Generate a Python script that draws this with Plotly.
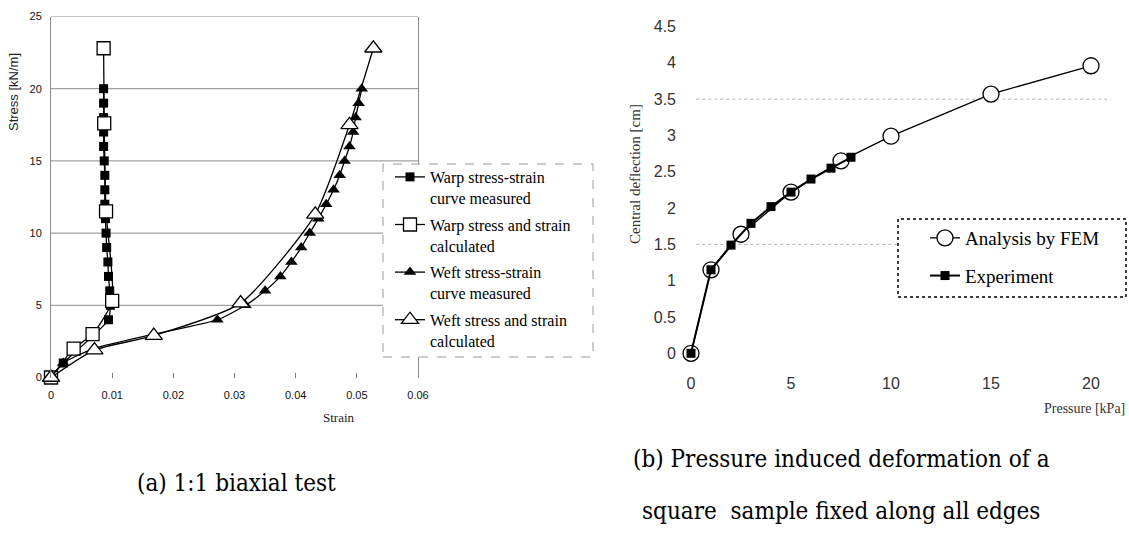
import plotly.graph_objects as go

W, H = 1129, 554

# ---------------- (a) 1:1 biaxial test ----------------
warp_meas_strain = [0, 0.0020, 0.0094, 0.0097, 0.0096, 0.0094, 0.0093, 0.0091, 0.0090,
                    0.0089, 0.0088, 0.0088, 0.0088, 0.0087, 0.0086, 0.0086, 0.0086, 0.0086, 0.0086]
warp_meas_stress = [0, 1, 4, 5, 6, 7, 8, 9, 10, 11, 12, 13, 14, 15, 16, 17, 18, 19, 20]

warp_calc_strain = [0, 0.0037, 0.0068, 0.0100, 0.0090, 0.0087, 0.0086]
warp_calc_stress = [0, 2.0, 3.0, 5.3, 11.5, 17.6, 22.8]

weft_meas_strain = [0, 0.0020, 0.0070, 0.0168, 0.0272, 0.0318, 0.0350, 0.0375, 0.0393, 0.0409,
                    0.0423, 0.0437, 0.0450, 0.0462, 0.0472, 0.0480, 0.0488, 0.0494, 0.0498, 0.0503, 0.0508]
weft_meas_stress = [0, 1, 2, 3, 4, 5, 6, 7, 8, 9, 10, 11, 12, 13, 14, 15, 16, 17, 18, 19, 20]

weft_calc_strain = [0, 0.0071, 0.0168, 0.0310, 0.0432, 0.0488, 0.0527]
weft_calc_stress = [0, 1.9, 2.9, 5.15, 11.3, 17.5, 22.8]

stress_grid = [5, 10, 15, 20, 25]

legend_a = ["Warp stress-strain<br>curve measured",
            "Warp stress and strain<br>calculated",
            "Weft stress-strain<br>curve measured",
            "Weft stress and strain<br>calculated"]

# ---------------- (b) pressure induced deformation ----------------
fem_pressure = [0, 1, 2.5, 5, 7.5, 10, 15, 20]
fem_deflection = [0, 1.15, 1.64, 2.22, 2.65, 2.99, 3.57, 3.96]

exp_pressure = [0, 1, 2, 3, 4, 5, 6, 7, 8]
exp_deflection = [0, 1.15, 1.49, 1.79, 2.02, 2.22, 2.40, 2.55, 2.70]

legend_b = ["Analysis by FEM", "Experiment"]

captions = ["(a) 1:1 biaxial test",
            "(b) Pressure induced deformation of a",
            "square  sample fixed along all edges"]

fig = go.Figure()

LINE = dict(color="black", width=1.3, shape="spline", smoothing=0.6)

fig.add_trace(go.Scatter(x=warp_meas_strain, y=warp_meas_stress, mode="lines+markers",
                         name=legend_a[0], line=LINE,
                         marker=dict(symbol="square", size=9, color="black"),
                         xaxis="x", yaxis="y", legend="legend", cliponaxis=False,
                         legendgroup="g0"))
fig.add_trace(go.Scatter(x=warp_calc_strain, y=warp_calc_stress, mode="lines+markers",
                         name=legend_a[1], line=LINE,
                         marker=dict(symbol="square", size=13, color="white",
                                     line=dict(color="black", width=1.3)),
                         xaxis="x", yaxis="y", legend="legend", cliponaxis=False,
                         legendgroup="g1"))
fig.add_trace(go.Scatter(x=weft_meas_strain, y=weft_meas_stress, mode="lines+markers",
                         name=legend_a[2], line=LINE,
                         marker=dict(symbol="triangle-up", size=11, color="black"),
                         xaxis="x", yaxis="y", legend="legend", cliponaxis=False,
                         legendgroup="g2"))
fig.add_trace(go.Scatter(x=weft_calc_strain, y=weft_calc_stress, mode="lines+markers",
                         name=legend_a[3], line=LINE,
                         marker=dict(symbol="triangle-up", size=15, color="white",
                                     line=dict(color="black", width=1.3)),
                         xaxis="x", yaxis="y", legend="legend", cliponaxis=False,
                         legendgroup="g3"))

fig.add_trace(go.Scatter(x=fem_pressure, y=fem_deflection, mode="lines+markers",
                         name=legend_b[0], line=dict(color="black", width=1.3),
                         marker=dict(symbol="circle", size=16, color="white",
                                     line=dict(color="black", width=1.3)),
                         xaxis="x2", yaxis="y2", legend="legend2", cliponaxis=False,
                         legendgroup="a"))
fig.add_trace(go.Scatter(x=exp_pressure, y=exp_deflection, mode="lines+markers",
                         name=legend_b[1], line=dict(color="black", width=2),
                         marker=dict(symbol="square", size=9, color="black"),
                         xaxis="x2", yaxis="y2", legend="legend2", cliponaxis=False,
                         legendgroup="b"))

shapes = []
for g in stress_grid:
    shapes.append(dict(type="line", xref="x domain", yref="y", x0=0, x1=1, y0=g, y1=g,
                       line=dict(color="#8a8a8a", width=1), layer="below"))
# legend box (a)
shapes.append(dict(type="rect", xref="paper", yref="paper",
                   x0=383 / W, x1=593 / W, y0=1 - 357 / H, y1=1 - 164 / H,
                   fillcolor="white", line=dict(color="#999999", width=1, dash="dash"),
                   layer="above"))
# dotted gridlines (b)
for g in [1.5, 3.5]:
    shapes.append(dict(type="line", xref="x2 domain", yref="y2", x0=0.04, x1=1.0, y0=g, y1=g,
                       line=dict(color="#b0b0b0", width=1, dash="dot"), layer="below"))
# legend box (b)
shapes.append(dict(type="rect", xref="paper", yref="paper",
                   x0=898 / W, x1=1126 / W, y0=1 - 297 / H, y1=1 - 219 / H,
                   fillcolor="white", line=dict(color="black", width=1.5, dash="dot"),
                   layer="above"))

SANS = "Liberation Sans, Arial, sans-serif"
SERIF = "Liberation Serif, Times New Roman, serif"
CAP = "DejaVu Serif Condensed, DejaVu Serif, serif"


def ann(text, x, y, font, angle=0, xanchor="center"):
    return dict(text=text, x=x / W, y=1 - y / H, xref="paper", yref="paper",
                xanchor=xanchor, yanchor="middle", textangle=angle,
                showarrow=False, font=font)


annotations = [
    ann("Stress [kN/m]", 13, 92, dict(family=SANS, size=13, color="#222"), angle=-90),
    ann("Strain", 339, 417, dict(family=SERIF, size=13, color="#222")),
    ann("Central deflection [cm]", 635, 174, dict(family=SERIF, size=15, color="#333"), angle=-90),
    ann("Pressure [kPa]", 1127, 408, dict(family=SERIF, size=14, color="#333"), xanchor="right"),
    ann(captions[0], 236, 483, dict(family=CAP, size=24, color="#000")),
    ann(captions[1], 841, 459, dict(family=CAP, size=24, color="#000")),
    ann(captions[2], 841, 511, dict(family=CAP, size=24, color="#000")),
]

fig.update_layout(
    width=W, height=H, margin=dict(l=0, r=0, t=0, b=0, autoexpand=False),
    paper_bgcolor="white", plot_bgcolor="white",
    xaxis=dict(domain=[51 / W, 418 / W], range=[0, 0.06], dtick=0.01, tick0=0,
               showgrid=False, zeroline=False, showline=False, automargin=False,
               ticks="inside", ticklen=5, tickcolor="#777", ticklabelstandoff=9,
               tickfont=dict(family=SANS, size=11, color="#111"), anchor="y"),
    yaxis=dict(domain=[1 - 377.5 / H, 1 - 16.5 / H], range=[0, 25], dtick=5,
               showgrid=False, zeroline=False, showline=True, mirror=True, automargin=False,
               linecolor="#8a8a8a", linewidth=1, ticks="", ticklabelstandoff=6,
               tickfont=dict(family=SANS, size=11, color="#111"), anchor="x"),
    xaxis2=dict(domain=[679 / W, 1111 / W], range=[-0.6, 21], tickvals=[0, 5, 10, 15, 20],
                showgrid=False, zeroline=False, showline=False, ticks="", automargin=False,
                ticklabelstandoff=8,
                tickfont=dict(family=SANS, size=16, color="#333"), anchor="y2"),
    yaxis2=dict(domain=[1 - 364.2 / H, 1 - 19.3 / H], range=[-0.15, 4.6], dtick=0.5, tick0=0,
                showgrid=False, zeroline=False, showline=False, ticks="", automargin=False,
                ticklabelstandoff=2,
                tickfont=dict(family=SANS, size=16, color="#333"), anchor="x2"),
    legend=dict(x=390 / W, y=1 - 160 / H, xanchor="left", yanchor="top",
                bgcolor="rgba(0,0,0,0)", borderwidth=0, valign="top",
                font=dict(family=SERIF, size=16, color="black"), itemwidth=30,
                traceorder="grouped", tracegroupgap=3),
    legend2=dict(x=925 / W, y=1 - 219 / H, xanchor="left", yanchor="top",
                 bgcolor="rgba(0,0,0,0)", borderwidth=0,
                 font=dict(family=SERIF, size=19, color="black"), itemwidth=30,
                 traceorder="grouped", tracegroupgap=10),
    shapes=shapes,
    annotations=annotations,
    showlegend=True,
)

fig.write_html("out.html")
